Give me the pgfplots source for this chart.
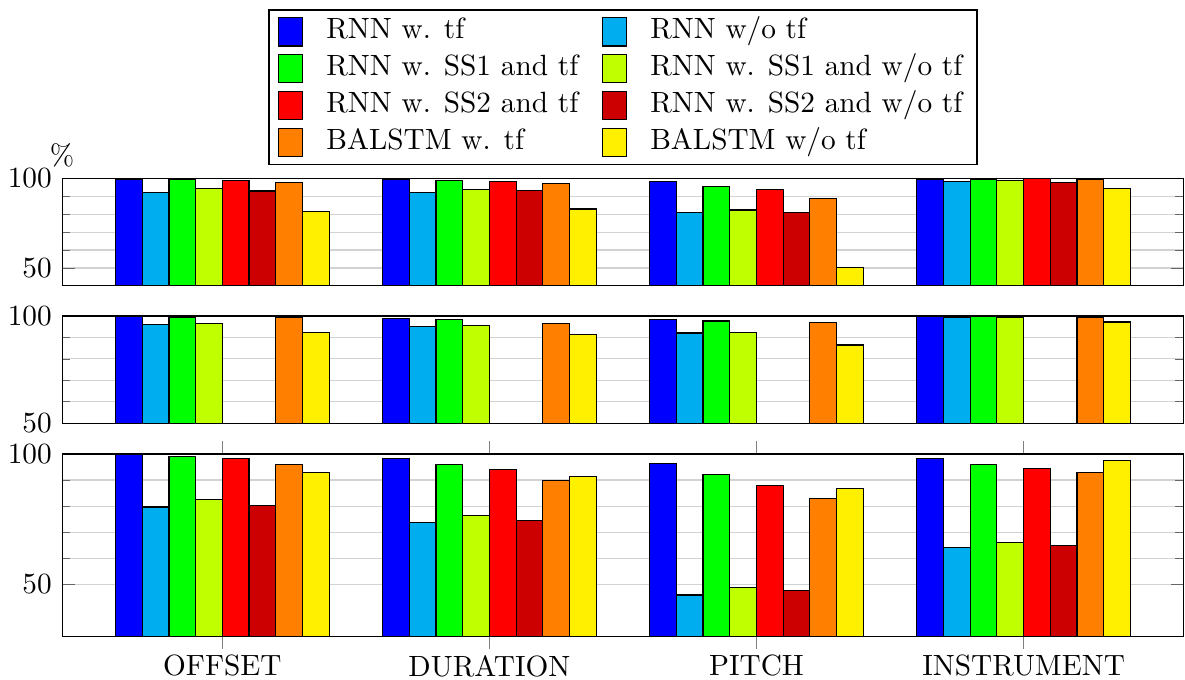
\documentclass[border=0pt]{standalone}
\usepackage{pgfplots}
\usepackage{pgfplotstable}
\pgfplotsset{compat=1.18}
\definecolor{c0}{RGB}{0,0,255}
\definecolor{c1}{RGB}{0,174,239}
\definecolor{c2}{RGB}{0,255,0}
\definecolor{c3}{RGB}{191,255,0}
\definecolor{c4}{RGB}{255,0,0}
\definecolor{c5}{RGB}{204,0,0}
\definecolor{c6}{RGB}{255,128,0}
\definecolor{c7}{RGB}{255,240,0}

\pgfplotstableread{
x  s0   s1   s2   s3   s4   s5   s6   s7
0  99.6 92.2 99.3 94.4 98.7 92.9 97.8 81.7
1  99.3 92.0 98.9 93.9 98.3 93.1 97.0 82.9
2  98.1 80.8 95.5 82.3 93.9 81.0 88.8 50.3
3  99.6 98.3 99.6 98.9 99.8 97.8 99.6 94.4
}\toptable
\pgfplotstableread{
x  s0   s1   s2   s3   s6   s7
0  99.7 96.0 99.4 96.7 99.2 92.5
1  98.8 95.0 98.3 95.7 96.4 91.3
2  98.3 92.1 97.7 92.4 96.9 86.5
3  99.7 99.2 99.7 99.2 99.4 97.2
}\midtable
\pgfplotstableread{
x  s0   s1   s2   s3   s4   s5   s6   s7
0  99.7 79.7 99.1 82.6 98.3 80.2 95.9 92.8
1  98.2 73.9 96.0 76.5 94.1 74.5 89.8 91.4
2  96.3 46.0 92.1 48.9 88.0 47.8 83.0 86.8
3  98.3 64.2 96.0 66.0 94.4 65.0 93.0 97.4
}\bottable

\pgfplotsset{
  mybar/.style n args={2}{ybar, bar width=0.1, bar shift=#2, draw=black, fill=#1},
  base/.style={
    width=383pt, scale only axis, xmin=-0.6, xmax=3.6,
    ymax=100, ytick={50,100}, minor y tick num=4,
    ymajorgrids, yminorgrids,
    major grid style={gray!35}, minor grid style={gray!35},
    y tick style={gray!80!black},
  },
}

\begin{document}
\begin{tikzpicture}
\begin{axis}[base, at={(0pt,0pt)}, anchor=north west,
  height=36.7pt, ymin=40, xtick=\empty,
  legend columns=2,
  legend cell align=left,
  legend style={at={(0.5,1)}, anchor=south, yshift=4.5pt, draw=black,
    inner xsep=3pt, inner ysep=1.2pt, row sep=0pt,
    nodes={text height=6.9pt, text depth=2.2pt, inner ysep=1.75pt},
    /tikz/every odd column/.append style={column sep=6pt},
    /tikz/every even column/.append style={column sep=6pt}},
  legend image code/.code={\draw[#1] (0pt,-4.8pt) rectangle (8.2pt,4.8pt);},
  extra description/.code={\node[anchor=south, inner sep=0pt] at (rel axis cs:0,1) [yshift=3.5pt] {\%};},
]
\addplot[mybar={c0}{-0.35}] table[x=x,y=s0]{\toptable};
\addplot[mybar={c1}{-0.25}] table[x=x,y=s1]{\toptable};
\addplot[mybar={c2}{-0.15}] table[x=x,y=s2]{\toptable};
\addplot[mybar={c3}{-0.05}] table[x=x,y=s3]{\toptable};
\addplot[mybar={c4}{0.05}] table[x=x,y=s4]{\toptable};
\addplot[mybar={c5}{0.15}] table[x=x,y=s5]{\toptable};
\addplot[mybar={c6}{0.25}] table[x=x,y=s6]{\toptable};
\addplot[mybar={c7}{0.35}] table[x=x,y=s7]{\toptable};
\legend{RNN w. tf, RNN w/o tf, RNN w. SS1 and tf, RNN w. SS1 and w/o tf, RNN w. SS2 and tf, RNN w. SS2 and w/o tf, BALSTM w. tf, BALSTM w/o tf}
\end{axis}

\begin{axis}[base, at={(0pt,-47.0pt)}, anchor=north west,
  height=36.6pt, ymin=50, xtick=\empty,
]
\addplot[mybar={c0}{-0.35}] table[x=x,y=s0]{\midtable};
\addplot[mybar={c1}{-0.25}] table[x=x,y=s1]{\midtable};
\addplot[mybar={c2}{-0.15}] table[x=x,y=s2]{\midtable};
\addplot[mybar={c3}{-0.05}] table[x=x,y=s3]{\midtable};
\addplot[mybar={c6}{0.25}] table[x=x,y=s6]{\midtable};
\addplot[mybar={c7}{0.35}] table[x=x,y=s7]{\midtable};
\end{axis}

\begin{axis}[base, at={(0pt,-94.1pt)}, anchor=north west,
  height=62.4pt, ymin=30,
  xtick={0,1,2,3}, xticklabels={OFFSET,DURATION,PITCH,INSTRUMENT},
  xtick align=outside, x tick style={gray},
  xticklabel style={yshift=1.5pt},
]
\addplot[mybar={c0}{-0.35}] table[x=x,y=s0]{\bottable};
\addplot[mybar={c1}{-0.25}] table[x=x,y=s1]{\bottable};
\addplot[mybar={c2}{-0.15}] table[x=x,y=s2]{\bottable};
\addplot[mybar={c3}{-0.05}] table[x=x,y=s3]{\bottable};
\addplot[mybar={c4}{0.05}] table[x=x,y=s4]{\bottable};
\addplot[mybar={c5}{0.15}] table[x=x,y=s5]{\bottable};
\addplot[mybar={c6}{0.25}] table[x=x,y=s6]{\bottable};
\addplot[mybar={c7}{0.35}] table[x=x,y=s7]{\bottable};
\end{axis}
\pgfresetboundingbox
\useasboundingbox (-21.2pt,60.9pt) rectangle (383.4pt,-171.2pt);
\end{tikzpicture}
\end{document}
